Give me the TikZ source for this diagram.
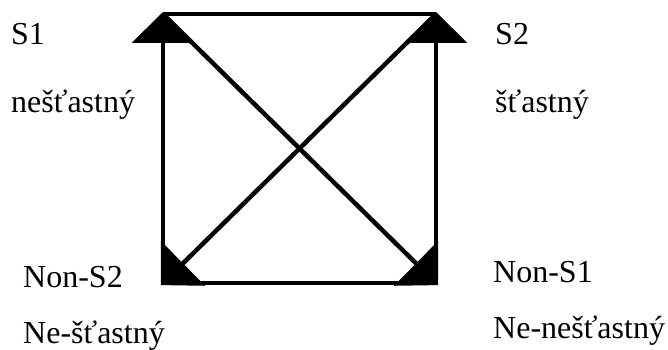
\documentclass[tikz,border=0pt]{standalone}
\usepackage{fontspec}
\setmainfont{Liberation Serif}
\usetikzlibrary{arrows.meta}

\tikzset{
  term/.style={anchor=base west, inner sep=0pt, font=\fontsize{32}{38}\selectfont},
  side/.style={line width=4.5pt},
}

\begin{document}
\begin{tikzpicture}[x=1pt, y=-1pt, >={Triangle[length=31pt,width=62pt]}]
  \useasboundingbox (0,0) rectangle (668,350);

  \coordinate (s1) at (163,14);
  \coordinate (s2) at (436,14);
  \coordinate (ns2) at (163,283);
  \coordinate (ns1) at (436,283);

  \draw[side] (s1) -- (s2);
  \draw[side] (ns2) -- (ns1);
  \draw[side, ->, shorten >=-2pt] (ns2) -- (s1);
  \draw[side, ->, shorten >=-2pt] (ns1) -- (s2);
  \draw[side, ->, shorten >=-3pt] (s1) -- (ns1);
  \draw[side, ->, shorten >=-3pt] (s2) -- (ns2);

  \node[term] (s1name) at (11,45) {S1};
  \node[term] (s1word) at (11,112) {nešťastný};
  \node[term] (s2name) at (495,45) {S2};
  \node[term] (s2word) at (495,112) {šťastný};
  \node[term] (ns2name) at (23,287) {Non-S2};
  \node[term] (ns2word) at (23,343) {Ne-šťastný};
  \node[term] (ns1name) at (493,282) {Non-S1};
  \node[term] (ns1word) at (493,338) {Ne-nešťastný};
\end{tikzpicture}
\end{document}
